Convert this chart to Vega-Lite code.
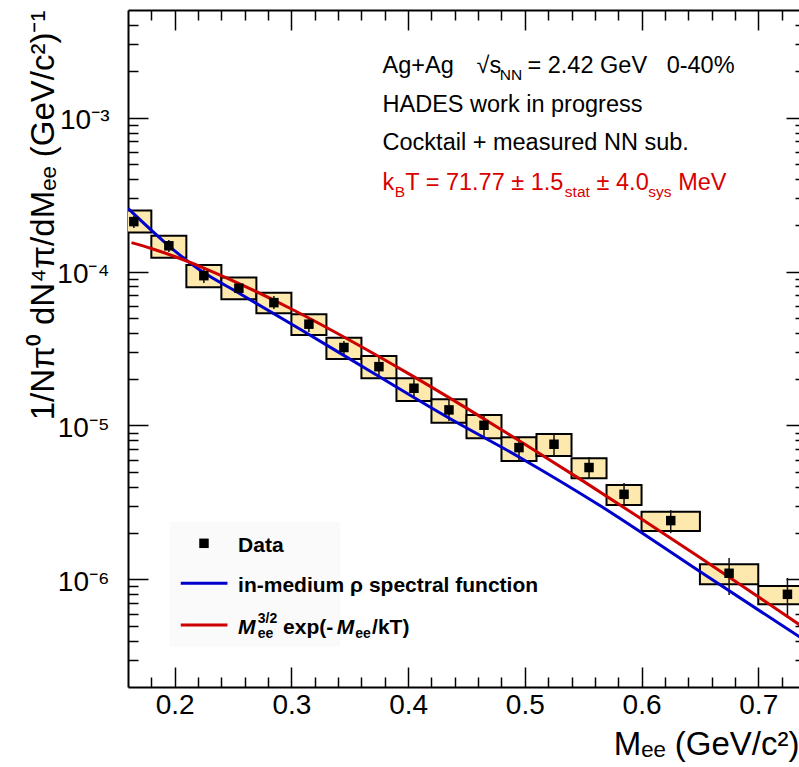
{
  "$schema": "https://vega.github.io/schema/vega-lite/v6.json",
  "width": 671,
  "height": 677,
  "autosize": {"type": "none"},
  "padding": {"left": 128, "top": 10, "right": 0, "bottom": 80},
  "background": "white",
  "config": {
    "view": {"stroke": null},
    "font": "Liberation Sans",
    "axis": {"labelFont": "Liberation Sans", "titleFont": "Liberation Sans", "grid": false, "labelColor": "black", "titleColor": "black", "tickColor": "black", "domainColor": "black"},
    "text": {"font": "Liberation Sans"}
  },
  "datasets": {
    "points": [
      {"x": 0.165, "lo": 0.15, "hi": 0.18, "y": 2.11e-4, "sys_lo": 1.79e-4, "sys_hi": 2.49e-4, "stat_lo": 1.92e-4, "stat_hi": 2.30e-4},
      {"x": 0.195, "lo": 0.18, "hi": 0.21, "y": 1.47e-4, "sys_lo": 1.23e-4, "sys_hi": 1.71e-4, "stat_lo": 1.34e-4, "stat_hi": 1.60e-4},
      {"x": 0.225, "lo": 0.21, "hi": 0.24, "y": 9.4e-5, "sys_lo": 7.91e-5, "sys_hi": 1.104e-4, "stat_lo": 8.43e-5, "stat_hi": 1.04e-4},
      {"x": 0.255, "lo": 0.24, "hi": 0.27, "y": 7.79e-5, "sys_lo": 6.61e-5, "sys_hi": 9.13e-5, "stat_lo": 7.15e-5, "stat_hi": 8.43e-5},
      {"x": 0.285, "lo": 0.27, "hi": 0.30, "y": 6.28e-5, "sys_lo": 5.36e-5, "sys_hi": 7.29e-5, "stat_lo": 5.71e-5, "stat_hi": 6.94e-5},
      {"x": 0.315, "lo": 0.30, "hi": 0.33, "y": 4.55e-5, "sys_lo": 3.87e-5, "sys_hi": 5.28e-5, "stat_lo": 4.05e-5, "stat_hi": 5.07e-5},
      {"x": 0.345, "lo": 0.33, "hi": 0.36, "y": 3.21e-5, "sys_lo": 2.70e-5, "sys_hi": 3.72e-5, "stat_lo": 2.87e-5, "stat_hi": 3.54e-5},
      {"x": 0.375, "lo": 0.36, "hi": 0.39, "y": 2.41e-5, "sys_lo": 2.03e-5, "sys_hi": 2.83e-5, "stat_lo": 2.10e-5, "stat_hi": 2.79e-5},
      {"x": 0.405, "lo": 0.39, "hi": 0.42, "y": 1.745e-5, "sys_lo": 1.443e-5, "sys_hi": 2.03e-5, "stat_lo": 1.509e-5, "stat_hi": 2.00e-5},
      {"x": 0.435, "lo": 0.42, "hi": 0.45, "y": 1.262e-5, "sys_lo": 1.043e-5, "sys_hi": 1.48e-5, "stat_lo": 1.070e-5, "stat_hi": 1.464e-5},
      {"x": 0.465, "lo": 0.45, "hi": 0.48, "y": 1.003e-5, "sys_lo": 8.25e-6, "sys_hi": 1.17e-5, "stat_lo": 8.42e-6, "stat_hi": 1.17e-5},
      {"x": 0.495, "lo": 0.48, "hi": 0.51, "y": 7.18e-6, "sys_lo": 5.88e-6, "sys_hi": 8.38e-6, "stat_lo": 5.97e-6, "stat_hi": 8.42e-6},
      {"x": 0.525, "lo": 0.51, "hi": 0.54, "y": 7.55e-6, "sys_lo": 6.33e-6, "sys_hi": 8.81e-6, "stat_lo": 6.33e-6, "stat_hi": 8.81e-6},
      {"x": 0.555, "lo": 0.54, "hi": 0.57, "y": 5.33e-6, "sys_lo": 4.54e-6, "sys_hi": 6.12e-6, "stat_lo": 4.49e-6, "stat_hi": 6.24e-6},
      {"x": 0.585, "lo": 0.57, "hi": 0.60, "y": 3.57e-6, "sys_lo": 3.04e-6, "sys_hi": 4.10e-6, "stat_lo": 3.00e-6, "stat_hi": 4.23e-6},
      {"x": 0.625, "lo": 0.60, "hi": 0.65, "y": 2.41e-6, "sys_lo": 2.06e-6, "sys_hi": 2.75e-6, "stat_lo": 2.00e-6, "stat_hi": 2.82e-6},
      {"x": 0.675, "lo": 0.65, "hi": 0.70, "y": 1.096e-6, "sys_lo": 9.29e-7, "sys_hi": 1.253e-6, "stat_lo": 7.92e-7, "stat_hi": 1.377e-6},
      {"x": 0.725, "lo": 0.70, "hi": 0.75, "y": 8.0e-7, "sys_lo": 6.89e-7, "sys_hi": 9.06e-7, "stat_lo": 5.78e-7, "stat_hi": 1.021e-6}
    ],
    "curves": [
      {"series": "rho", "x": 0.16, "y": 2.57e-4},
      {"series": "rho", "x": 0.2215, "y": 1.023e-4},
      {"series": "rho", "x": 0.2549, "y": 7.26e-5},
      {"series": "rho", "x": 0.3072, "y": 4.23e-5},
      {"series": "rho", "x": 0.3672, "y": 2.26e-5},
      {"series": "rho", "x": 0.4357, "y": 1.11e-5},
      {"series": "rho", "x": 0.4957, "y": 6.2e-6},
      {"series": "rho", "x": 0.5643, "y": 3.02e-6},
      {"series": "rho", "x": 0.65, "y": 1.124e-6},
      {"series": "rho", "x": 0.75, "y": 3.58e-7},
      {"series": "thermal", "x": 0.163, "y": 1.541e-4},
      {"series": "thermal", "x": 0.18, "y": 1.412e-4},
      {"series": "thermal", "x": 0.2, "y": 1.252e-4},
      {"series": "thermal", "x": 0.225, "y": 1.054e-4},
      {"series": "thermal", "x": 0.25, "y": 8.71e-5},
      {"series": "thermal", "x": 0.3, "y": 5.71e-5},
      {"series": "thermal", "x": 0.35, "y": 3.58e-5},
      {"series": "thermal", "x": 0.4, "y": 2.18e-5},
      {"series": "thermal", "x": 0.45, "y": 1.296e-5},
      {"series": "thermal", "x": 0.5, "y": 7.56e-6},
      {"series": "thermal", "x": 0.55, "y": 4.35e-6},
      {"series": "thermal", "x": 0.6, "y": 2.47e-6},
      {"series": "thermal", "x": 0.65, "y": 1.387e-6},
      {"series": "thermal", "x": 0.7, "y": 7.72e-7},
      {"series": "thermal", "x": 0.75, "y": 4.27e-7}
    ],
    "legendbox": [{"x": 0.1958, "x2": 0.342, "y": 3.65e-7, "y2": 2.37e-6}],
    "legendlines": [
      {"series": "rho", "x": 0.2052, "x2": 0.2452, "y": 9.43e-7},
      {"series": "thermal", "x": 0.2052, "x2": 0.2452, "y": 5.05e-7}
    ],
    "legendmarker": [{"x": 0.2251, "y": 1.716e-6}],
    "notes": [
      {"x": 0.3781, "y": 1.943e-3, "text": "Ag+Ag", "role": "main"},
      {"x": 0.4586, "y": 1.943e-3, "text": "√s", "role": "main"},
      {"x": 0.4786, "y": 1.943e-3, "text": "NN", "role": "sub"},
      {"x": 0.5023, "y": 1.943e-3, "text": "= 2.42 GeV", "role": "main"},
      {"x": 0.6215, "y": 1.943e-3, "text": "0-40%", "role": "main"},
      {"x": 0.3781, "y": 1.094e-3, "text": "HADES work in progress", "role": "main"},
      {"x": 0.3781, "y": 6.17e-4, "text": "Cocktail + measured NN sub.", "role": "main"},
      {"x": 0.3781, "y": 3.39e-4, "text": "k", "role": "red"},
      {"x": 0.3886, "y": 3.39e-4, "text": "B", "role": "redsub"},
      {"x": 0.3975, "y": 3.39e-4, "text": "T = 71.77 ± 1.5", "role": "red"},
      {"x": 0.5343, "y": 3.39e-4, "text": "stat", "role": "redsub"},
      {"x": 0.5615, "y": 3.39e-4, "text": "± 4.0", "role": "red"},
      {"x": 0.6057, "y": 3.39e-4, "text": "sys", "role": "redsub"},
      {"x": 0.6314, "y": 3.39e-4, "text": "MeV", "role": "red"}
    ],
    "legendtext": [
      {"x": 0.2543, "y": 1.514e-6, "text": "Data", "role": "b"},
      {"x": 0.2543, "y": 8.24e-7, "text": "in-medium ρ spectral function", "role": "b"},
      {"x": 0.2543, "y": 4.42e-7, "text": "M", "role": "bi"},
      {"x": 0.2712, "y": 4.42e-7, "text": "ee", "role": "bsub"},
      {"x": 0.2712, "y": 4.42e-7, "text": "3/2", "role": "bsup"},
      {"x": 0.2929, "y": 4.42e-7, "text": "exp(-", "role": "b"},
      {"x": 0.3389, "y": 4.42e-7, "text": "M", "role": "bi"},
      {"x": 0.3546, "y": 4.42e-7, "text": "ee", "role": "bsub"},
      {"x": 0.3691, "y": 4.42e-7, "text": "/kT)", "role": "b"}
    ]
  },
  "layer": [
    {
      "data": {"name": "legendbox"},
      "mark": {"type": "rect", "fill": "#fafafa", "strokeWidth": 0},
      "encoding": {
        "x": {"field": "x", "type": "quantitative", "scale": {"domain": [0.16, 0.7349], "nice": false, "zero": false}, "axis": null},
        "x2": {"field": "x2"},
        "y": {"field": "y", "type": "quantitative", "scale": {"type": "log", "domain": [2e-7, 0.005], "nice": false}, "axis": null},
        "y2": {"field": "y2"}
      }
    },
    {
      "data": {"name": "points"},
      "mark": {"type": "rect", "fill": "#fde8ae", "stroke": "black", "strokeWidth": 2, "clip": true},
      "encoding": {
        "x": {"field": "lo", "type": "quantitative", "scale": {"domain": [0.16, 0.7349], "nice": false, "zero": false},
          "axis": {
            "orient": "bottom",
            "values": [0.18, 0.2, 0.22, 0.24, 0.26, 0.28, 0.3, 0.32, 0.34, 0.36, 0.38, 0.4, 0.42, 0.44, 0.46, 0.48, 0.5, 0.52, 0.54, 0.56, 0.58, 0.6, 0.62, 0.64, 0.66, 0.68, 0.7, 0.72],
            "domain": true, "domainWidth": 2,
            "tickWidth": 1.5,
            "tickSize": {"condition": {"test": "abs(datum.value*10 - round(datum.value*10)) < 0.01", "value": -20}, "value": -10},
            "labelExpr": "abs(datum.value*10 - round(datum.value*10)) < 0.01 ? format(datum.value, '.1f') : ''",
            "labelFontSize": 28, "labelPadding": 24, "labelOverlap": false, "labelFlush": false,
            "title": "Mₑₑ (GeV/c²)", "titleFontSize": 33, "titleFontWeight": "normal",
            "titleAnchor": "end", "titleAlign": "right", "titleBaseline": "alphabetic", "titleY": 67
          }},
        "x2": {"field": "hi"},
        "y": {"field": "sys_lo", "type": "quantitative", "scale": {"type": "log", "domain": [2e-7, 0.005], "nice": false},
          "axis": {
            "orient": "left",
            "values": [3e-7, 4e-7, 5e-7, 6e-7, 7e-7, 8e-7, 9e-7, 1e-6, 2e-6, 3e-6, 4e-6, 5e-6, 6e-6, 7e-6, 8e-6, 9e-6, 1e-5, 2e-5, 3e-5, 4e-5, 5e-5, 6e-5, 7e-5, 8e-5, 9e-5, 1e-4, 2e-4, 3e-4, 4e-4, 5e-4, 6e-4, 7e-4, 8e-4, 9e-4, 1e-3, 2e-3, 3e-3, 4e-3],
            "domain": true, "domainWidth": 2,
            "tickWidth": 1.5,
            "tickSize": {"condition": {"test": "abs(log(datum.value)/LN10 - round(log(datum.value)/LN10)) < 0.01", "value": -20}, "value": -10},
            "labelExpr": "abs(log(datum.value)/LN10 - round(log(datum.value)/LN10)) < 0.01 ? (round(log(datum.value)/LN10) == -3 ? '10⁻³' : round(log(datum.value)/LN10) == -4 ? '10⁻⁴' : round(log(datum.value)/LN10) == -5 ? '10⁻⁵' : '10⁻⁶') : ''",
            "labelFontSize": 28, "labelPadding": 39, "labelOffset": 3, "labelOverlap": false, "labelFlush": false, "labelBaseline": "middle",
            "title": "1/Nπ⁰ dN⁴π/dMₑₑ (GeV/c²)⁻¹", "titleFontSize": 33, "titleFontWeight": "normal",
            "titleAngle": 270, "titleAlign": "right", "titleBaseline": "alphabetic", "titleX": -75, "titleY": 0
          }},
        "y2": {"field": "sys_hi"}
      }
    },
    {
      "data": {"name": "points"},
      "mark": {"type": "rule", "color": "#111111", "strokeWidth": 1.5, "clip": true},
      "encoding": {
        "x": {"field": "x", "type": "quantitative", "scale": {"domain": [0.16, 0.7349], "nice": false, "zero": false}, "axis": null},
        "y": {"field": "stat_lo", "type": "quantitative", "scale": {"type": "log", "domain": [2e-7, 0.005], "nice": false}, "axis": null},
        "y2": {"field": "stat_hi"}
      }
    },
    {
      "data": {"name": "curves"},
      "mark": {"type": "line", "strokeWidth": 3, "clip": true, "interpolate": "monotone"},
      "encoding": {
        "x": {"field": "x", "type": "quantitative", "scale": {"domain": [0.16, 0.7349], "nice": false, "zero": false}, "axis": null},
        "y": {"field": "y", "type": "quantitative", "scale": {"type": "log", "domain": [2e-7, 0.005], "nice": false}, "axis": null},
        "color": {"field": "series", "type": "nominal", "scale": {"domain": ["rho", "thermal"], "range": ["#0000cc", "#cc0000"]}, "legend": null}
      }
    },
    {
      "data": {"name": "legendlines"},
      "mark": {"type": "rule", "strokeWidth": 3},
      "encoding": {
        "x": {"field": "x", "type": "quantitative", "scale": {"domain": [0.16, 0.7349], "nice": false, "zero": false}, "axis": null},
        "x2": {"field": "x2"},
        "y": {"field": "y", "type": "quantitative", "scale": {"type": "log", "domain": [2e-7, 0.005], "nice": false}, "axis": null},
        "color": {"field": "series", "type": "nominal", "scale": {"domain": ["rho", "thermal"], "range": ["#0000cc", "#cc0000"]}, "legend": null}
      }
    },
    {
      "data": {"name": "points"},
      "mark": {"type": "point", "shape": "square", "filled": true, "size": 90, "color": "black", "opacity": 1, "clip": true},
      "encoding": {
        "x": {"field": "x", "type": "quantitative", "scale": {"domain": [0.16, 0.7349], "nice": false, "zero": false},
          "axis": {
            "orient": "top",
            "values": [0.18, 0.2, 0.22, 0.24, 0.26, 0.28, 0.3, 0.32, 0.34, 0.36, 0.38, 0.4, 0.42, 0.44, 0.46, 0.48, 0.5, 0.52, 0.54, 0.56, 0.58, 0.6, 0.62, 0.64, 0.66, 0.68, 0.7, 0.72],
            "domain": true, "domainWidth": 2, "labels": false, "title": null,
            "tickWidth": 1.5,
            "tickSize": {"condition": {"test": "abs(datum.value*10 - round(datum.value*10)) < 0.01", "value": -20}, "value": -10}
          }},
        "y": {"field": "y", "type": "quantitative", "scale": {"type": "log", "domain": [2e-7, 0.005], "nice": false},
          "axis": {
            "orient": "right",
            "values": [3e-7, 4e-7, 5e-7, 6e-7, 7e-7, 8e-7, 9e-7, 1e-6, 2e-6, 3e-6, 4e-6, 5e-6, 6e-6, 7e-6, 8e-6, 9e-6, 1e-5, 2e-5, 3e-5, 4e-5, 5e-5, 6e-5, 7e-5, 8e-5, 9e-5, 1e-4, 2e-4, 3e-4, 4e-4, 5e-4, 6e-4, 7e-4, 8e-4, 9e-4, 1e-3, 2e-3, 3e-3, 4e-3],
            "domain": false, "labels": false, "title": null,
            "tickWidth": 1.5,
            "tickSize": {"condition": {"test": "abs(log(datum.value)/LN10 - round(log(datum.value)/LN10)) < 0.01", "value": -13}, "value": -4}
          }}
      }
    },
    {
      "data": {"name": "legendmarker"},
      "mark": {"type": "point", "shape": "square", "filled": true, "size": 90, "color": "black", "opacity": 1},
      "encoding": {
        "x": {"field": "x", "type": "quantitative", "scale": {"domain": [0.16, 0.7349], "nice": false, "zero": false}, "axis": null},
        "y": {"field": "y", "type": "quantitative", "scale": {"type": "log", "domain": [2e-7, 0.005], "nice": false}, "axis": null}
      }
    },
    {
      "data": {"name": "notes"},
      "transform": [{"filter": "datum.role == 'main'"}],
      "mark": {"type": "text", "align": "left", "baseline": "alphabetic", "fontSize": 23.5, "color": "black"},
      "encoding": {
        "x": {"field": "x", "type": "quantitative", "scale": {"domain": [0.16, 0.7349], "nice": false, "zero": false}, "axis": null},
        "y": {"field": "y", "type": "quantitative", "scale": {"type": "log", "domain": [2e-7, 0.005], "nice": false}, "axis": null},
        "text": {"field": "text"}
      }
    },
    {
      "data": {"name": "notes"},
      "transform": [{"filter": "datum.role == 'sub'"}],
      "mark": {"type": "text", "align": "left", "baseline": "alphabetic", "fontSize": 15.5, "dy": 7, "color": "black"},
      "encoding": {
        "x": {"field": "x", "type": "quantitative", "scale": {"domain": [0.16, 0.7349], "nice": false, "zero": false}, "axis": null},
        "y": {"field": "y", "type": "quantitative", "scale": {"type": "log", "domain": [2e-7, 0.005], "nice": false}, "axis": null},
        "text": {"field": "text"}
      }
    },
    {
      "data": {"name": "notes"},
      "transform": [{"filter": "datum.role == 'red'"}],
      "mark": {"type": "text", "align": "left", "baseline": "alphabetic", "fontSize": 23.5, "color": "#d90000"},
      "encoding": {
        "x": {"field": "x", "type": "quantitative", "scale": {"domain": [0.16, 0.7349], "nice": false, "zero": false}, "axis": null},
        "y": {"field": "y", "type": "quantitative", "scale": {"type": "log", "domain": [2e-7, 0.005], "nice": false}, "axis": null},
        "text": {"field": "text"}
      }
    },
    {
      "data": {"name": "notes"},
      "transform": [{"filter": "datum.role == 'redsub'"}],
      "mark": {"type": "text", "align": "left", "baseline": "alphabetic", "fontSize": 15.5, "dy": 7, "color": "#d90000"},
      "encoding": {
        "x": {"field": "x", "type": "quantitative", "scale": {"domain": [0.16, 0.7349], "nice": false, "zero": false}, "axis": null},
        "y": {"field": "y", "type": "quantitative", "scale": {"type": "log", "domain": [2e-7, 0.005], "nice": false}, "axis": null},
        "text": {"field": "text"}
      }
    },
    {
      "data": {"name": "legendtext"},
      "transform": [{"filter": "datum.role == 'b'"}],
      "mark": {"type": "text", "align": "left", "baseline": "alphabetic", "fontSize": 21, "fontWeight": "bold", "color": "black"},
      "encoding": {
        "x": {"field": "x", "type": "quantitative", "scale": {"domain": [0.16, 0.7349], "nice": false, "zero": false}, "axis": null},
        "y": {"field": "y", "type": "quantitative", "scale": {"type": "log", "domain": [2e-7, 0.005], "nice": false}, "axis": null},
        "text": {"field": "text"}
      }
    },
    {
      "data": {"name": "legendtext"},
      "transform": [{"filter": "datum.role == 'bi'"}],
      "mark": {"type": "text", "align": "left", "baseline": "alphabetic", "fontSize": 21, "fontWeight": "bold", "fontStyle": "italic", "color": "black"},
      "encoding": {
        "x": {"field": "x", "type": "quantitative", "scale": {"domain": [0.16, 0.7349], "nice": false, "zero": false}, "axis": null},
        "y": {"field": "y", "type": "quantitative", "scale": {"type": "log", "domain": [2e-7, 0.005], "nice": false}, "axis": null},
        "text": {"field": "text"}
      }
    },
    {
      "data": {"name": "legendtext"},
      "transform": [{"filter": "datum.role == 'bsub'"}],
      "mark": {"type": "text", "align": "left", "baseline": "alphabetic", "fontSize": 14, "fontWeight": "bold", "dy": 4.5, "color": "black"},
      "encoding": {
        "x": {"field": "x", "type": "quantitative", "scale": {"domain": [0.16, 0.7349], "nice": false, "zero": false}, "axis": null},
        "y": {"field": "y", "type": "quantitative", "scale": {"type": "log", "domain": [2e-7, 0.005], "nice": false}, "axis": null},
        "text": {"field": "text"}
      }
    },
    {
      "data": {"name": "legendtext"},
      "transform": [{"filter": "datum.role == 'bsup'"}],
      "mark": {"type": "text", "align": "left", "baseline": "alphabetic", "fontSize": 14, "fontWeight": "bold", "dy": -11, "color": "black"},
      "encoding": {
        "x": {"field": "x", "type": "quantitative", "scale": {"domain": [0.16, 0.7349], "nice": false, "zero": false}, "axis": null},
        "y": {"field": "y", "type": "quantitative", "scale": {"type": "log", "domain": [2e-7, 0.005], "nice": false}, "axis": null},
        "text": {"field": "text"}
      }
    }
  ],
  "resolve": {"axis": {"x": "independent", "y": "independent"}}
}
